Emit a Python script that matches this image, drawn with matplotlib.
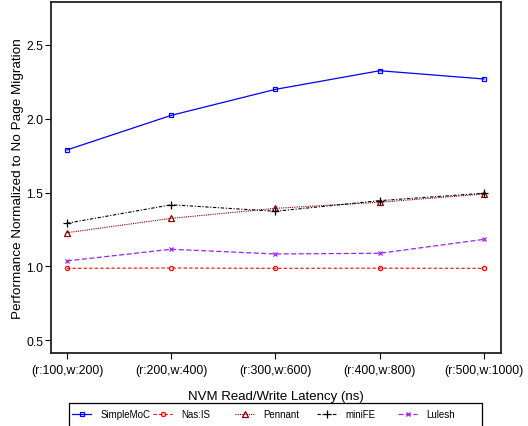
import numpy as np
import matplotlib
matplotlib.use("Agg")
import matplotlib.pyplot as plt
from matplotlib.patches import Rectangle

plt.rcParams['font.family'] = ['Liberation Sans', 'DejaVu Sans']

latency = ["(r:100,w:200)", "(r:200,w:400)", "(r:300,w:600)", "(r:400,w:800)", "(r:500,w:1000)"]
simplemoc = [1.788, 2.022, 2.198, 2.324, 2.268]
nasis = [0.987, 0.989, 0.987, 0.988, 0.987]
pennant = [1.228, 1.325, 1.393, 1.434, 1.490]
minife = [1.292, 1.417, 1.373, 1.445, 1.495]
lulesh = [1.037, 1.116, 1.084, 1.089, 1.183]

x = np.arange(len(latency))
W, H = 528, 427

fig = plt.figure(figsize=(W / 100, H / 100), dpi=100)
ax = fig.add_axes([51 / W, 1 - 354.3 / H, 450 / W, 351.6 / H])

lines = []
lines += ax.plot(x, simplemoc, color='#0000ff', ls='-', lw=0.9, marker='s', ms=3, mfc='none', mew=0.9, label='SimpleMoC')
lines += ax.plot(x, nasis, color='#ff0000', ls=(0, (3, 2)), lw=0.8, marker='o', ms=3, mfc='none', mew=0.9, label='Nas:IS')
lines += ax.plot(x, pennant, color='#8b0000', ls=(0, (1, 1)), lw=0.8, marker='^', ms=3.8, mfc='none', mew=0.9, label='Pennant')
lines += ax.plot(x, minife, color='#000000', ls=(0, (3, 1.5, 1, 1.5)), lw=0.8, marker='+', ms=6, mew=0.9, label='miniFE')
lines += ax.plot(x, lulesh, color='#a020f0', ls=(0, (4, 2)), lw=0.9, marker='x', ms=3.5, mew=0.9, label='Lulesh')

ax.set_xlim(-0.153, 4.163)
ax.set_ylim(0.412, 2.791)
ax.set_xticks(x)
ax.set_xticklabels(latency, fontsize=8.8)
ax.set_yticks([0.5, 1.0, 1.5, 2.0, 2.5])
ax.set_yticklabels(["0.5", "1.0", "1.5", "2.0", "2.5"], fontsize=8.8)
ax.tick_params(direction='out', length=4, width=0.8)
ax.tick_params(axis='y', pad=1.5)
for s in ax.spines.values():
    s.set_linewidth(1.3)
    s.set_color('#222222')

ax.set_xlabel("NVM Read/Write Latency (ns)", fontsize=9.5, labelpad=10)
ax.set_ylabel("Performance Normalized to No Page Migration", fontsize=9.7)
ax.yaxis.set_label_coords(-0.06, 0.5)

# legend box with evenly spaced entries
fig.add_artist(Rectangle((69 / W, -0.05), (482 - 69) / W, 0.05 + 1 - 404 / H,
                         transform=fig.transFigure, fill=False, ec='black', lw=0.9))
starts = [72, 153, 235, 317, 398]
for ln, hx in zip(lines, starts):
    fig.legend(handles=[ln], labels=[ln.get_label()], loc='center left',
               bbox_to_anchor=(hx / W, 1 - 415 / H), frameon=False, fontsize=7,
               borderpad=0, borderaxespad=0, handlelength=2.0, handletextpad=0.9)

fig.savefig("out.png", dpi=100)
